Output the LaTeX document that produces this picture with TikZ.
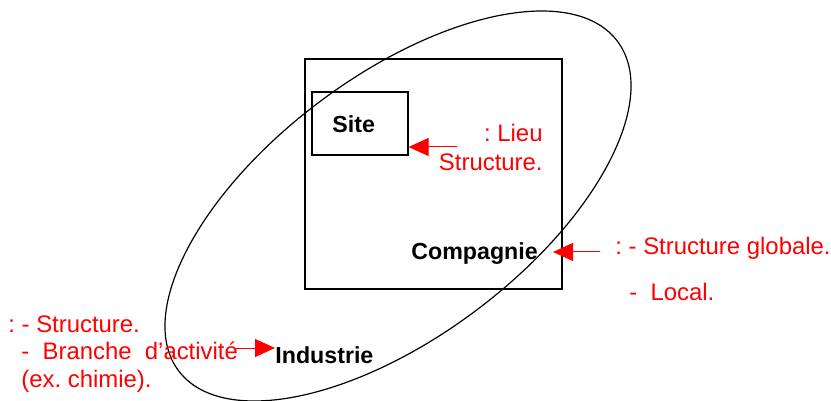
\documentclass[tikz,border=0pt]{standalone}
\usepackage{fontspec}
\setmainfont{Liberation Sans}
\usepackage{tikz}
\usetikzlibrary{arrows.meta, positioning, shapes.geometric}
\frenchspacing

\begin{document}
\begin{tikzpicture}[x=0.5pt, y=-0.5pt, every node/.style={font=\fontsize{11.7}{14}\selectfont, inner sep=0pt}]
    \tikzstyle{box} = [rectangle, draw=black, line width=0.6pt]
    \tikzstyle{term} = [font=\fontsize{11.6}{14}\selectfont\bfseries, anchor=base west]
    \tikzstyle{remark} = [font=\fontsize{11.95}{14}\selectfont, text=red, anchor=base west]
    \tikzstyle{pointer} = [draw=red, line width=0.5pt, -{Triangle[length=10pt, width=9pt]}]

    \useasboundingbox (0,0) rectangle (831,401);

    \node[box, minimum width=128.5pt, minimum height=115pt] (compagnie) at (433.5,174) {};
    \node[box, minimum width=48pt, minimum height=31.5pt] (site) at (360,123.5) {};
    \node[ellipse, draw=black, line width=0.6pt, minimum width=274.4pt, minimum height=130.4pt, rotate=36.9] (industrie) at (398,206) {};

    \node[term] (siteLbl) at (332,132.5) {Site};
    \node[term] (compagnieLbl) at (411,259) {Compagnie};
    \node[term] (industrieLbl) at (275,363) {Industrie};

    \node[remark, anchor=base east] (lieu) at (543,141.5) {: Lieu};
    \node[remark, anchor=base east] (lieuStruct) at (543,170) {Structure.};
    \node[remark] (globale) at (615,255) {: - Structure globale.};
    \node[remark] (local) at (629,300) {-\ \ Local.};
    \node[remark] (structure) at (8,332.5) {: - Structure.};
    \node[remark] (branche) at (21,359) {-\ \ Branche\ \ d’activité};
    \node[remark] (chimie) at (21,387) {(ex. chimie).};

    \coordinate (lieuTail) at (457,147);
    \coordinate (globaleTail) at (600,252);
    \coordinate (globaleTip) at (553,252);
    \coordinate (brancheTail) at (235,348);

    \draw[pointer] (lieuTail) -- (lieuTail -| site.east);
    \draw[pointer] (globaleTail) -- (globaleTip);
    \draw[pointer] (brancheTail) -- (brancheTail -| industrieLbl.west);
\end{tikzpicture}
\end{document}
